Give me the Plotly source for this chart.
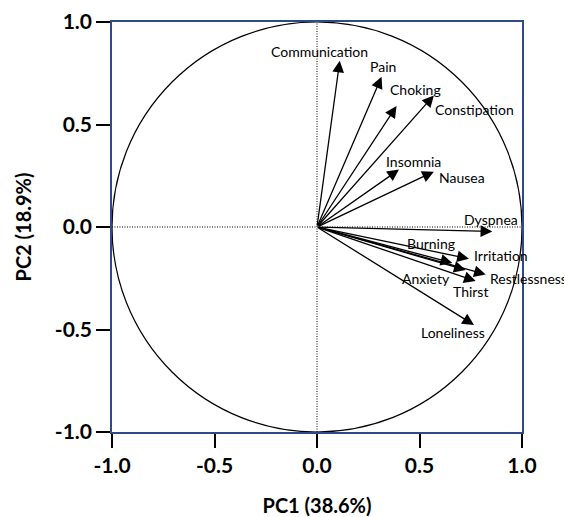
import plotly.graph_objects as go

# Variable loadings (PC1, PC2)
variables = ["Communication", "Pain", "Choking", "Constipation", "Insomnia", "Nausea",
             "Dyspnea", "Burning", "Irritation", "Restlessness", "Anxiety", "Thirst", "Loneliness"]
pc1 = [0.111, 0.315, 0.388, 0.570, 0.400, 0.570, 0.855, 0.725, 0.741, 0.823, 0.660, 0.774, 0.766]
pc2 = [0.811, 0.733, 0.590, 0.642, 0.280, 0.270, -0.022, -0.210, -0.155, -0.232, -0.175, -0.264, -0.478]

# Label anchor positions (data units) and horizontal anchors
label_x = [0.011, 0.320, 0.481, 0.767, 0.473, 0.706, 0.850, 0.556, 0.896, 0.835, 0.534, 0.750, 0.662]
label_y = [0.855, 0.782, 0.671, 0.571, 0.319, 0.243, 0.039, -0.080, -0.141, -0.252, -0.252, -0.316, -0.514]
label_anchor = ["center"] * 9 + ["left"] + ["center"] * 3

tick_vals = [-1.0, -0.5, 0.0, 0.5, 1.0]
tick_text = ["-1.0", "-0.5", "0.0", "0.5", "1.0"]

x_title = "PC1 (38.6%)"
y_title = "PC2 (18.9%)"

FONT = "Lato"
FRAME = "#2c4a8c"

fig = go.Figure()
# invisible trace to establish axes
fig.add_trace(go.Scatter(x=pc1, y=pc2, mode="markers", marker=dict(opacity=0), hoverinfo="skip",
                         showlegend=False))

shapes = [
    dict(type="circle", xref="x", yref="y", x0=-1, y0=-1, x1=1, y1=1,
         line=dict(color="black", width=1.2), layer="below"),
    dict(type="line", xref="x", yref="y", x0=0, y0=-1, x1=0, y1=1,
         line=dict(color="black", width=1, dash="1px,1.5px"), layer="below"),
    dict(type="line", xref="x", yref="y", x0=-1, y0=0, x1=1, y1=0,
         line=dict(color="black", width=1, dash="1px,1.5px"), layer="below"),
]

annotations = []
for name, x, y in zip(variables, pc1, pc2):
    annotations.append(dict(x=x, y=y, ax=0, ay=0, xref="x", yref="y", axref="x", ayref="y",
                            text="", showarrow=True, arrowhead=2, arrowsize=1.8,
                            arrowwidth=1.3, arrowcolor="black"))
for name, lx, ly, anc in zip(variables, label_x, label_y, label_anchor):
    annotations.append(dict(x=lx, y=ly, xref="x", yref="y", text=name, showarrow=False,
                            xanchor=anc, yanchor="middle",
                            font=dict(family=FONT, size=14, color="black")))

axis_common = dict(
    range=[-1, 1], tickvals=tick_vals, ticktext=tick_text,
    showgrid=False, zeroline=False, automargin=False,
    showline=True, mirror=True, linecolor=FRAME, linewidth=1.6,
    ticks="outside", ticklen=14, tickwidth=1.6, tickcolor="black",
    tickfont=dict(family=FONT, size=21, color="black", weight="bold"),
)

# page body has an 8px margin, so the figure is sized/offset to compensate
fig.update_layout(
    width=564, height=509,
    margin=dict(l=104, r=50, t=14, b=85),
    plot_bgcolor="white", paper_bgcolor="white",
    shapes=shapes, annotations=annotations,
    xaxis=dict(**axis_common,
               title=dict(text=x_title, standoff=24,
                          font=dict(family=FONT, size=20, color="black", weight="bold"))),
    yaxis=dict(**axis_common,
               title=dict(text=y_title, standoff=18,
                          font=dict(family=FONT, size=20, color="black", weight="bold"))),
    showlegend=False,
)

fig.write_html("out.html")
